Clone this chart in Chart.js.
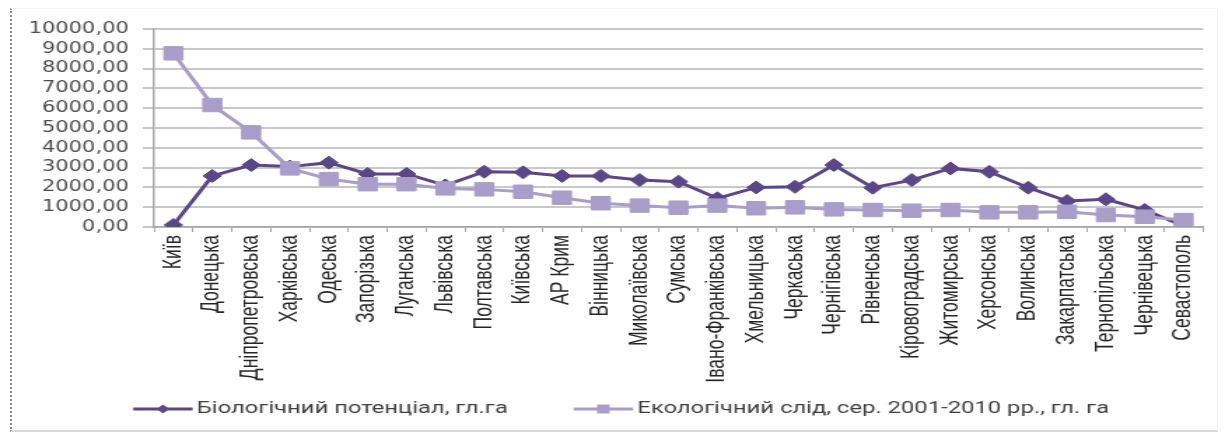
<!DOCTYPE html>
<html>
<head>
<meta charset="utf-8">
<script src="https://cdn.jsdelivr.net/npm/chart.js@4.4.0/dist/chart.umd.min.js"></script>
<style>
  html, body { margin: 0; padding: 0; background: #fff; width: 1225px; height: 434px; overflow: hidden; }
  #frame { position: absolute; left: 10px; top: 8px; width: 1205px; height: 421px;
           border-left: 2px dotted #8c8c8c; border-top: 1px solid #f4f4f4;
           border-bottom: 2px solid #d9d9d9; border-right: 1px solid #f4f4f4; }
  #wrap { position: absolute; left: 0; top: 0; width: 875px; height: 434px;
          transform: scaleX(1.4); transform-origin: 0 0; }
</style>
</head>
<body>
<div id="frame"></div>
<div id="wrap"><canvas id="chart" width="875" height="434"></canvas></div>
<script>
// Regions of Ukraine, in the order plotted
const regions = [
  'Київ', 'Донецька', 'Дніпропетровська', 'Харківська', 'Одеська', 'Запорізька',
  'Луганська', 'Львівська', 'Полтавська', 'Київська', 'АР Крим', 'Вінницька',
  'Миколаївська', 'Сумська', 'Івано-Франківська', 'Хмельницька', 'Черкаська',
  'Чернігівська', 'Рівненська', 'Кіровоградська', 'Житомирська', 'Херсонська',
  'Волинська', 'Закарпатська', 'Тернопільська', 'Чернівецька', 'Севастополь'
];

// Biological capacity, global hectares
const bioCapacity = [
  100, 2580, 3130, 3050, 3250, 2680, 2680, 2100, 2790, 2760, 2580, 2580, 2370, 2290,
  1450, 2000, 2030, 3130, 1985, 2370, 2960, 2790, 1985, 1310, 1400, 860, 50
];

// Ecological footprint, average 2001-2010, global hectares
const ecoFootprint = [
  8770, 6160, 4780, 2960, 2420, 2160, 2160, 1950, 1900, 1780, 1480, 1200, 1080, 975,
  1080, 945, 995, 890, 860, 825, 860, 740, 740, 770, 605, 520, 350
];

const seriesNames = [
  'Біологічний потенціал, гл.га',
  'Екологічний слід, сер. 2001-2010 рр., гл. га'
];

const yMin = 0, yMax = 10000, yStep = 1000;

const BIO_COLOR = '#5b4787';
const ECO_COLOR = '#a99dc9';

// Layout constants (canvas coordinates before the horizontal stretch)
const CANVAS_H = 434;
const PLOT_TOP = 29, PLOT_BOTTOM = 227, PLOT_LEFT = 110, PAD_RIGHT = 15.7, PAD_LEFT = 26;
const LEGEND_FONT = 17, LEGEND_PAD = 45, PAD_BOTTOM = 6.5;
const LEGEND_H = LEGEND_FONT + LEGEND_PAD + 10;
const LEGEND_SYMBOL_W = 39;

// Draws each legend symbol as a short line with the series marker on it
const legendMarkers = {
  id: 'legendMarkers',
  afterDraw(chart) {
    const lg = chart.legend;
    if (!lg || !lg.legendHitBoxes) return;
    const ctx = chart.ctx;
    lg.legendHitBoxes.forEach((hb, i) => {
      const item = lg.legendItems[i];
      const ds = chart.data.datasets[item.datasetIndex];
      const x0 = hb.left + 2;
      const x1 = hb.left + LEGEND_SYMBOL_W + LEGEND_FONT / 2 - 3;
      const cx = (x0 + x1) / 2;
      const cy = hb.top + LEGEND_FONT / 2;
      ctx.save();
      ctx.strokeStyle = ds.borderColor;
      ctx.lineWidth = 3;
      ctx.beginPath();
      ctx.moveTo(x0, cy);
      ctx.lineTo(x1, cy);
      ctx.stroke();
      ctx.fillStyle = ds.borderColor;
      ctx.beginPath();
      if (ds.pointStyle === 'rectRot') {
        const r = 4.5;
        ctx.moveTo(cx - r, cy); ctx.lineTo(cx, cy - r);
        ctx.lineTo(cx + r, cy); ctx.lineTo(cx, cy + r);
        ctx.closePath();
      } else {
        const h = 4.5;
        ctx.rect(cx - h, cy - h, 2 * h, 2 * h);
      }
      ctx.fill();
      ctx.restore();
    });
  }
};

new Chart(document.getElementById('chart'), {
  type: 'line',
  data: {
    labels: regions,
    datasets: [
      {
        label: seriesNames[0],
        data: bioCapacity,
        borderColor: BIO_COLOR,
        backgroundColor: BIO_COLOR,
        pointBackgroundColor: BIO_COLOR,
        pointBorderColor: BIO_COLOR,
        pointStyle: 'rectRot',
        pointRadius: 6.5,
        pointBorderWidth: 1,
        borderWidth: 3,
        tension: 0,
        order: 1
      },
      {
        label: seriesNames[1],
        data: ecoFootprint,
        borderColor: ECO_COLOR,
        backgroundColor: ECO_COLOR,
        pointBackgroundColor: ECO_COLOR,
        pointBorderColor: ECO_COLOR,
        pointStyle: 'rect',
        pointRadius: 9.5,
        pointBorderWidth: 1,
        borderWidth: 3,
        tension: 0,
        order: 0
      }
    ]
  },
  options: {
    responsive: false,
    animation: false,
    devicePixelRatio: 1,
    layout: { padding: { top: PLOT_TOP, right: PAD_RIGHT, bottom: PAD_BOTTOM, left: PAD_LEFT } },
    plugins: {
      tooltip: { enabled: false },
      legend: {
        position: 'bottom',
        labels: {
          usePointStyle: true,
          pointStyleWidth: LEGEND_SYMBOL_W,
          padding: LEGEND_PAD,
          color: '#404040',
          font: { family: 'Roboto', size: LEGEND_FONT },
          generateLabels: (chart) => chart.data.datasets.map((ds, i) => ({
            text: ds.label,
            fillStyle: 'rgba(0,0,0,0)',
            strokeStyle: 'rgba(0,0,0,0)',
            lineWidth: 0,
            pointStyle: 'line',
            hidden: false,
            datasetIndex: i,
            fontColor: '#404040'
          }))
        }
      }
    },
    scales: {
      x: {
        type: 'category',
        offset: true,
        grid: {
          display: true,
          drawOnChartArea: false,
          drawTicks: true,
          tickLength: 5,
          offset: true,
          color: '#a6a6a6'
        },
        border: { color: '#a6a6a6', width: 1.5 },
        ticks: {
          autoSkip: false,
          minRotation: 90,
          maxRotation: 90,
          padding: 3,
          color: '#262626',
          font: { family: 'Liberation Sans', size: 17.5 }
        },
        afterFit(scale) {
          scale.height = CANVAS_H - PAD_BOTTOM - LEGEND_H - PLOT_BOTTOM;
          // long rotated region names run below the axis box; let them draw in full
          scale._computeLabelArea = () => undefined;
        }
      },
      y: {
        min: yMin,
        max: yMax,
        grid: { color: '#c8c8c8', lineWidth: 2, tickLength: 8, drawTicks: true },
        border: { color: '#a6a6a6', width: 1.5 },
        ticks: {
          stepSize: yStep,
          autoSkip: false,
          padding: 10,
          color: '#4d4d4d',
          font: { family: 'DejaVu Sans', size: 15 },
          callback: (v) => Number(v).toFixed(2).replace('.', ',')
        },
        afterFit(scale) {
          scale.width = PLOT_LEFT - PAD_LEFT;
          // value labels are wider than the narrowed axis box; draw them unclipped
          scale._computeLabelArea = () => undefined;
        }
      }
    }
  },
  plugins: [legendMarkers]
});
</script>
</body>
</html>
